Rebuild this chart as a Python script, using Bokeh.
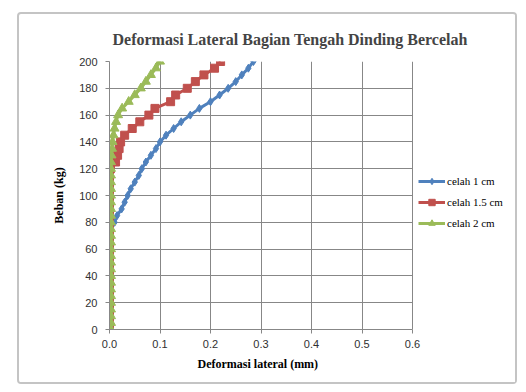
from bokeh.plotting import figure
from bokeh.models import Range1d, FixedTicker, NumeralTickFormatter, Legend, LegendItem, Title
from bokeh.embed import file_html
from bokeh.resources import INLINE

title_text = "Deformasi Lateral Bagian Tengah Dinding  Bercelah"
x_label = "Deformasi  lateral (mm)"
y_label = "Beban (kg)"
series_names = ["celah 1 cm", "celah 1.5 cm", "celah 2 cm"]

loads = [0, 5, 10, 15, 20, 25, 30, 35, 40, 45, 50, 55, 60, 65, 70, 75, 80, 85, 90, 95,
         100, 105, 110, 115, 120, 125, 130, 135, 140, 145, 150, 155, 160, 165, 170, 175,
         180, 185, 190, 195, 200]

celah_1 = [0.002, 0.002, 0.002, 0.002, 0.002, 0.002, 0.002, 0.002, 0.002, 0.002,
           0.002, 0.002, 0.002, 0.002, 0.002, 0.002, 0.010, 0.015, 0.024, 0.030,
           0.036, 0.042, 0.050, 0.058, 0.064, 0.072, 0.082, 0.092, 0.100, 0.112,
           0.127, 0.142, 0.160, 0.178, 0.200, 0.218, 0.235, 0.250, 0.262, 0.275,
           0.285]

celah_15 = [0.0, 0.0, 0.0, 0.0, 0.0, 0.0, 0.0, 0.0, 0.0, 0.0,
            0.0, 0.0, 0.0, 0.0, 0.0, 0.0, 0.0, 0.0, 0.0, 0.0,
            0.0, 0.0, 0.0, 0.0, 0.002, 0.012, 0.016, 0.019, 0.022, 0.030,
            0.045, 0.060, 0.078, 0.090, 0.121, 0.131, 0.154, 0.170, 0.187, 0.208,
            0.220]

celah_2 = [0.003, 0.003, 0.003, 0.003, 0.003, 0.003, 0.003, 0.003, 0.003, 0.003,
           0.003, 0.003, 0.003, 0.003, 0.003, 0.003, 0.003, 0.003, 0.003, 0.003,
           0.003, 0.003, 0.003, 0.003, 0.003, 0.003, 0.004, 0.005, 0.006, 0.008,
           0.010, 0.013, 0.017, 0.025, 0.038, 0.050, 0.062, 0.072, 0.082, 0.092,
           0.100]

x_ticks = [0.0, 0.1, 0.2, 0.3, 0.4, 0.5, 0.6]
y_ticks = [0, 20, 40, 60, 80, 100, 120, 140, 160, 180, 200]
x_max = 0.6
y_max = 200

colors = ["#4F81BD", "#C0504D", "#9BBB59"]
grid_color = "#878787"

# plot frame: 0..0.6 spans 303 px; the frame is widened to hold the legend
frame_w = 400
x_view_end = x_max * frame_w / 303.0

p = figure(width=500, height=372, output_backend="svg", toolbar_location=None,
           x_range=Range1d(0, x_view_end), y_range=Range1d(0, y_max))
p.min_border_left = 90
p.min_border_right = 500 - 90 - frame_w
p.min_border_top = 47
p.min_border_bottom = 57
p.background_fill_color = "white"
p.border_fill_color = "white"
p.outline_line_color = None
p.styles = {"margin-left": "17px", "margin-top": "12px",
            "border": "2px solid #C4C4C4", "border-radius": "4px"}

p.title.text = title_text
p.title.text_font = "Liberation Serif"
p.title.text_font_style = "bold"
p.title.text_font_size = "16px"
p.title.align = "left"
p.title.offset = 3
p.title.standoff = 28

for ax in (p.xaxis[0], p.yaxis[0]):
    ax.axis_line_color = grid_color
    ax.major_tick_line_color = grid_color
    ax.major_tick_out = 4
    ax.major_tick_in = 0
    ax.minor_tick_line_color = None
    ax.major_label_text_font = "Liberation Sans"
    ax.major_label_text_font_size = "11px"
    ax.major_label_text_color = "#303030"
    ax.axis_label_text_font = "Liberation Serif"
    ax.axis_label_text_font_style = "bold"
    ax.axis_label_text_font_size = "12px"
    ax.axis_label_text_color = "black"

p.xaxis.ticker = FixedTicker(ticks=x_ticks)
p.yaxis.ticker = FixedTicker(ticks=y_ticks)
p.xaxis.bounds = (0, x_max)
p.xaxis.formatter = NumeralTickFormatter(format="0.0")
p.yaxis.axis_label = y_label
p.xaxis.major_label_standoff = 6
p.yaxis.major_label_standoff = 8
p.yaxis.axis_label_standoff = 10

# x-axis title, centred under the 0..0.6 part of the frame
x_title = Title(text=x_label, align="left", offset=88, standoff=8,
                text_font="Liberation Serif", text_font_style="bold",
                text_font_size="12px", text_color="black")
p.add_layout(x_title, "below")

p.xgrid.ticker = FixedTicker(ticks=x_ticks)
p.xgrid.grid_line_color = grid_color
yg = p.ygrid[0]
if "cross_bounds" in yg.properties():
    yg.ticker = FixedTicker(ticks=y_ticks)
    yg.cross_bounds = (0, x_max)
    yg.grid_line_color = grid_color
else:
    yg.visible = False
    p.segment(x0=[0] * len(y_ticks), x1=[x_max] * len(y_ticks), y0=y_ticks, y1=y_ticks,
              line_color=grid_color, line_width=1)

items = []
data = [celah_1, celah_15, celah_2]
markers = ["diamond", "square", "triangle"]
sizes = [8, 8, 9]
for name, xs, col, mk, sz in zip(series_names, data, colors, markers, sizes):
    ln = p.line(xs, loads, line_color=col, line_width=3)
    sc = p.scatter(xs, loads, marker=mk, size=sz, fill_color=col, line_color=col)
    items.append(LegendItem(label=name, renderers=[ln, sc]))

legend = Legend(items=items, location=(309, 98))
legend.background_fill_alpha = 0
legend.border_line_color = None
legend.padding = 0
legend.margin = 0
legend.glyph_width = 27
legend.glyph_height = 16
legend.spacing = 5
legend.label_standoff = 2
legend.label_text_font = "Liberation Serif"
legend.label_text_font_size = "11px"
legend.label_text_color = "black"
p.add_layout(legend)

out = file_html(p, INLINE)
open("out.html", "w").write(out)
